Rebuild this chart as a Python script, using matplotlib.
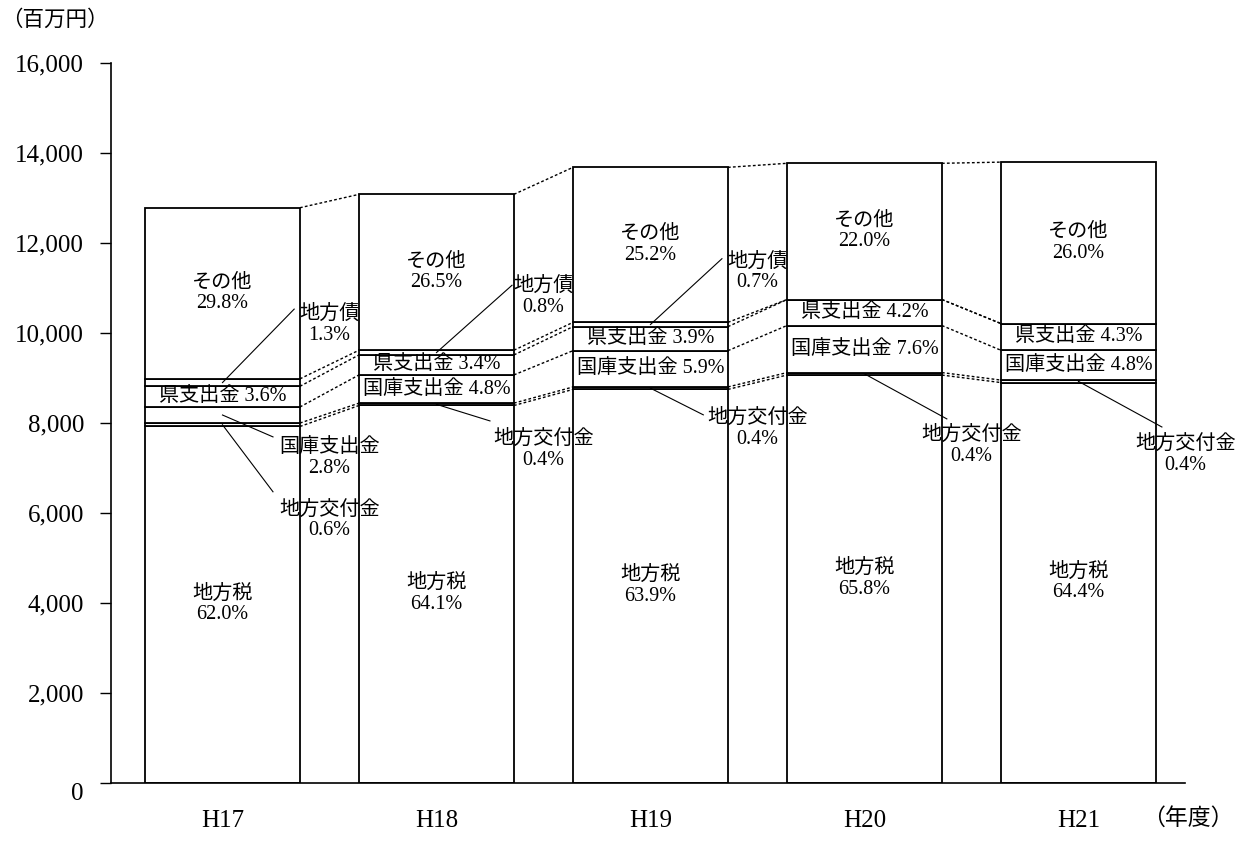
import matplotlib
matplotlib.use('Agg')
import matplotlib.pyplot as plt
from matplotlib.ticker import FuncFormatter
from matplotlib.transforms import ScaledTranslation

# fonts: Times-like digits, CJK fallback for the Japanese text
FONT = ['Liberation Serif', 'Noto Sans CJK JP']
plt.rcParams['font.family'] = FONT

# years and totals (million yen)
years = ['H17', 'H18', 'H19', 'H20', 'H21']
totals = [12760, 13070, 13670, 13760, 13800]

# categories from the bottom of the stack up
categories = ['地方税', '地方交付金', '国庫支出金', '県支出金', '地方債', 'その他']

# shares in percent per year
pct_chihozei = [62.0, 64.1, 63.9, 65.8, 64.4]
pct_kofukin = [0.6, 0.4, 0.4, 0.4, 0.4]
pct_kokko = [2.8, 4.8, 5.9, 7.6, 4.8]
pct_ken = [3.6, 3.4, 3.9, 4.2, 4.3]
pct_chihosai = [1.3, 0.8, 0.7, 0.0, 0.0]
pct_sonota = [29.8, 26.5, 25.2, 22.0, 26.0]

shares = [pct_chihozei, pct_kofukin, pct_kokko, pct_ken, pct_chihosai, pct_sonota]

# labels drawn inside the bar (bar, category)
inside_two_line = [(i, 0) for i in range(5)] + [(i, 5) for i in range(5)]
inside_one_line = [(0, 3), (1, 3), (1, 2), (2, 3), (2, 2), (3, 3), (3, 2), (4, 3), (4, 2)]

# labels to the right of the bar with a leader line:
# (bar, category, text y, leader end dx, leader end y)
outside_labels = [
    (0, 4, 10170, 0.335, 10520),
    (0, 2, 7210, 0.236, 7680),
    (0, 1, 5820, 0.236, 6460),
    (1, 4, 10790, 0.353, 11050),
    (1, 1, 7390, 0.25, 8035),
    (2, 4, 11340, 0.334, 11640),
    (2, 1, 7860, 0.247, 8170),
    (3, 1, 7480, 0.385, 8080),
    (4, 1, 7280, 0.39, 7900),
]

BAR_W = 0.724

fig = plt.figure(figsize=(12.52, 8.41), dpi=100)
ax = fig.add_axes([111 / 1252, 1 - 782.5 / 841, 1074 / 1252, 720 / 841])

# segment heights and bottoms
seg = [[totals[i] * s[i] / 100 for i in range(5)] for s in shares]
bottoms = []
run = [0.0] * 5
for k in range(len(categories)):
    bottoms.append(list(run))
    run = [run[i] + seg[k][i] for i in range(5)]

xs = list(range(5))
for k in range(len(categories)):
    ax.bar(xs, seg[k], bottom=bottoms[k], width=BAR_W, color='white',
           edgecolor='black', linewidth=1.3, zorder=2)

# dotted connectors between neighbouring bars
for i in range(4):
    for k in range(len(categories)):
        y0 = bottoms[k][i] + seg[k][i]
        y1 = bottoms[k][i + 1] + seg[k][i + 1]
        ax.plot([i + BAR_W / 2, i + 1 - BAR_W / 2], [y0, y1], color='black',
                linestyle=(0, (2, 1.6)), linewidth=1.0, zorder=1)

LABEL_FS = 14.5

def mid(i, k):
    return bottoms[k][i] + seg[k][i] / 2

for i, k in inside_two_line:
    ax.text(i, mid(i, k), f'{categories[k]}\n{shares[k][i]:.1f}%', ha='center',
            va='center', fontsize=LABEL_FS, linespacing=1.1, zorder=3)

for i, k in inside_one_line:
    ax.text(i, mid(i, k), f'{categories[k]} {shares[k][i]:.1f}%', ha='center',
            va='center', fontsize=LABEL_FS, zorder=3)

for i, k, ty, dx, ey in outside_labels:
    ax.plot([i, i + dx], [mid(i, k), ey], color='black', linewidth=0.8, zorder=3)
    ax.text(i + 0.5, ty, f'{categories[k]}\n{shares[k][i]:.1f}%', ha='center',
            va='center', fontsize=LABEL_FS, linespacing=1.1, zorder=4)

# axes styling
ax.set_xlim(-0.521, 4.498)
ax.set_ylim(0, 16000)
ax.set_yticks(range(0, 16001, 2000))
ax.yaxis.set_major_formatter(FuncFormatter(lambda v, p: f'{int(v):,}'))
ax.set_xticks(xs)
ax.set_xticklabels(years)
ax.tick_params(axis='y', direction='out', length=8, width=1, labelsize=18, pad=11.5)
ax.tick_params(axis='x', length=0, labelsize=18, pad=20)
ax.spines['top'].set_visible(False)
ax.spines['right'].set_visible(False)
ax.spines['left'].set_linewidth(1.2)
ax.spines['bottom'].set_linewidth(1.2)

# the "0" label sits a little below its tick in the original
zero_label = ax.get_yticklabels()[0]
zero_label.set_transform(zero_label.get_transform() +
                         ScaledTranslation(0, -6.5 / 72, fig.dpi_scale_trans))

fig.text(1 / 1252, 1 - 20 / 841, '（百万円）', ha='left', va='center', fontsize=15.5)
fig.text(1142 / 1252, 1 - 819 / 841, '（年度）', ha='left', va='center', fontsize=16.5)

fig.savefig('out.png', dpi=100, facecolor='white')
